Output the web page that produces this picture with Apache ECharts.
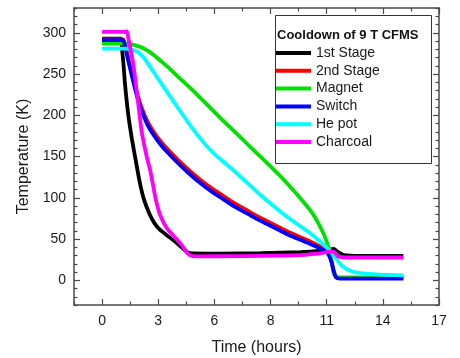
<!DOCTYPE html>
<html>
<head>
<meta charset="utf-8">
<script src="https://cdn.jsdelivr.net/npm/echarts@6/dist/echarts.min.js"></script>
<style>
  html, body { margin: 0; padding: 0; background: #fff; }
  #chart { width: 460px; height: 358px; }
</style>
</head>
<body>
<div id="chart"></div>
<script>
// Cooldown curves of a 9 T cryogen-free measurement system: [time (h), temperature (K)]
var firstStage = [[0,293],[0.95,293],[1.0,282],[1.08,262],[1.16,237],[1.33,199],[1.5,172],[1.7,145],[1.9,119],[2.1,99],[2.4,80],[2.65,69],[2.93,61],[3.3,54],[3.77,45],[4.1,38],[4.3,34],[4.6,32.5],[6,32.3],[8,32.8],[10,34],[11,35.5],[11.4,37],[11.7,38],[11.9,34],[12.2,30.5],[13,29.5],[15.2,29.5]];
var secondStage = [[0,292],[1.05,292],[1.15,287],[1.3,271],[1.5,251],[1.75,228],[2.0,209],[2.3,192],[2.6,180],[3.0,167],[3.5,154],[4.0,142],[4.5,131],[5.0,121],[5.5,112],[6.0,104],[6.5,96],[7.0,89],[7.5,82],[8.0,75.5],[8.5,69.5],[9.0,63.5],[9.5,57.5],[10.0,52],[10.5,47],[11.0,41],[11.3,37],[11.45,31],[11.58,22],[11.7,10],[11.82,3.5],[12.0,3],[15.2,3]];
var magnet = [[0,286.8],[1.2,286.8],[1.5,286],[2.0,282],[2.5,275],[3.0,265],[3.5,254.5],[4.0,243],[4.5,232],[5.0,220],[5.5,208],[6.0,196],[6.5,184.5],[7.0,173],[7.5,161],[8.0,149.5],[8.5,138],[9.0,126],[9.5,113],[10.0,99.5],[10.5,85],[10.8,74],[11.0,65],[11.2,55],[11.4,42],[11.5,33],[11.6,20],[11.68,9],[11.78,4.5],[12,3.5],[15.2,3.5]];
var switchHeater = [[0,291],[1.05,291],[1.15,285],[1.3,268],[1.5,248],[1.75,224],[2.0,205],[2.3,188],[2.6,176],[3.0,163],[3.5,150],[4.0,138],[4.5,127],[5.0,117],[5.5,108],[6.0,100],[6.5,92],[7.0,85],[7.5,78.5],[8.0,72],[8.5,66],[9.0,60],[9.5,54],[10.0,49],[10.5,44],[11.0,38.5],[11.3,35],[11.45,30],[11.58,22],[11.7,10],[11.82,3],[12.0,2],[15.2,2]];
var hePot = [[0,280.7],[1.2,280.7],[1.5,279.5],[1.8,276.5],[2.1,270],[2.5,256],[3.0,238],[3.5,220.5],[4.0,203],[4.5,186],[5.0,170.5],[5.5,157],[6.0,146],[6.5,136],[7.0,125],[7.5,114],[8.0,103],[8.5,93],[9.0,83],[9.5,74],[10.0,65.5],[10.5,57],[11.0,47],[11.4,38],[11.7,30],[12.0,20],[12.3,14],[12.7,10],[13.3,8],[14,6.8],[15.2,6]];
var charcoal = [[0,301],[1.16,301],[1.25,302],[1.33,293],[1.58,261],[1.75,229],[2.0,180],[2.25,150],[2.42,134],[2.55,118],[2.7,99],[2.93,79],[3.27,63],[3.6,54],[3.94,45],[4.1,40],[4.3,33],[4.44,30.4],[4.7,29],[7,29.3],[10,30.5],[11,32.5],[11.4,34.5],[11.7,34.5],[11.9,29],[12.3,27.6],[15.2,27.6]];

var seriesNames = ['1st Stage', '2nd Stage', 'Magnet', 'Switch', 'He pot', 'Charcoal'];
var seriesColors = ['#000000', '#ff0000', '#00e000', '#0000ff', '#00ffff', '#ff00ff'];
var seriesData = [firstStage, secondStage, magnet, switchHeater, hePot, charcoal];

// Axis ticks: x labels sit at every 17/6 h, shown rounded
var xStep = 17 / 6;
var xTickLabels = ['0', '3', '6', '8', '11', '14', '17'];
var yTickLabels = [0, 50, 100, 150, 200, 250, 300];

var xMajor = xTickLabels.map(function (_, i) { return i * xStep; });
var xMinor = [-xStep / 2].concat(xMajor.map(function (v) { return v + xStep / 2; })).filter(function (v) { return v < 17; });
var yMinor = [];
for (var v = -30; v <= 330; v += 10) { if (v % 50 !== 0) yMinor.push(v); }

var font = 'Arial, "Liberation Sans", sans-serif';
var axisGray = '#4a4a4a';

function xAx(pos, ticks, len, main) {
  return {
    type: 'value', position: pos, offset: 0, min: -xStep / 2, max: 17, interval: xStep / 2,
    axisLine: { show: main, onZero: false, lineStyle: { color: axisGray, width: 1.5 } },
    axisTick: { show: true, inside: true, length: len, customValues: ticks, lineStyle: { color: axisGray, width: 1.2 } },
    axisLabel: main && pos === 'bottom' ? {
      show: true, customValues: xMajor, margin: 9, color: '#1a1a1a', fontSize: 14, fontFamily: font,
      formatter: function (val) { return xTickLabels[Math.round(val / xStep)]; }
    } : { show: false },
    splitLine: { show: false },
    name: main && pos === 'bottom' ? 'Time (hours)' : '',
    nameLocation: 'middle', nameGap: 35,
    nameTextStyle: { fontSize: 16, color: '#1a1a1a', fontFamily: font }
  };
}
function yAx(pos, ticks, len, main) {
  return {
    type: 'value', position: pos, offset: 0, min: -30, max: 330, interval: 10,
    axisLine: { show: main, onZero: false, lineStyle: { color: axisGray, width: 1.5 } },
    axisTick: { show: true, inside: true, length: len, customValues: ticks, lineStyle: { color: axisGray, width: 1.2 } },
    axisLabel: main && pos === 'left' ? {
      show: true, customValues: yTickLabels, margin: 8, color: '#1a1a1a', fontSize: 14, fontFamily: font
    } : { show: false },
    splitLine: { show: false },
    name: main && pos === 'left' ? 'Temperature (K)' : '',
    nameLocation: 'middle', nameGap: 40, nameRotate: 90,
    nameTextStyle: { fontSize: 16, color: '#1a1a1a', fontFamily: font }
  };
}

var chart = echarts.init(document.getElementById('chart'), null, { renderer: 'canvas' });
chart.setOption({
  animation: false,
  backgroundColor: '#fff',
  grid: { left: 74, right: 21, top: 8, bottom: 53, containLabel: false, outerBoundsMode: 'none' },
  xAxis: [
    xAx('bottom', xMajor, 6, true),
    xAx('bottom', xMinor, 3.5, false),
    xAx('top', xMajor, 6, true),
    xAx('top', xMinor, 3.5, false)
  ],
  yAxis: [
    yAx('left', yTickLabels, 6, true),
    yAx('left', yMinor, 3.5, false),
    yAx('right', yTickLabels, 6, true),
    yAx('right', yMinor, 3.5, false)
  ],
  legend: {
    orient: 'vertical', left: 275, top: 15,
    padding: [30, 0, 13, 1], itemGap: 1.8,
    itemWidth: 35, itemHeight: 4, icon: 'rect',
    textStyle: { fontSize: 14, lineHeight: 16, color: '#1a1a1a', fontFamily: font },
    data: seriesNames
  },
  graphic: [
    { type: 'rect', shape: { x: 275.5, y: 15.5, width: 156, height: 148 }, style: { fill: 'none', stroke: '#333', lineWidth: 1 }, z: 10 },
    { type: 'text', left: 277, top: 29, style: { text: 'Cooldown of 9 T CFMS', font: 'bold 13px ' + font, fill: '#111' }, z: 10 }
  ],
  series: seriesNames.map(function (name, i) {
    return {
      name: name, type: 'line', data: seriesData[i],
      xAxisIndex: 0, yAxisIndex: 0,
      showSymbol: false, symbol: 'none',
      smooth: 0.2,
      lineStyle: { color: seriesColors[i], width: 3.8 },
      itemStyle: { color: seriesColors[i] }
    };
  })
});
</script>
</body>
</html>
